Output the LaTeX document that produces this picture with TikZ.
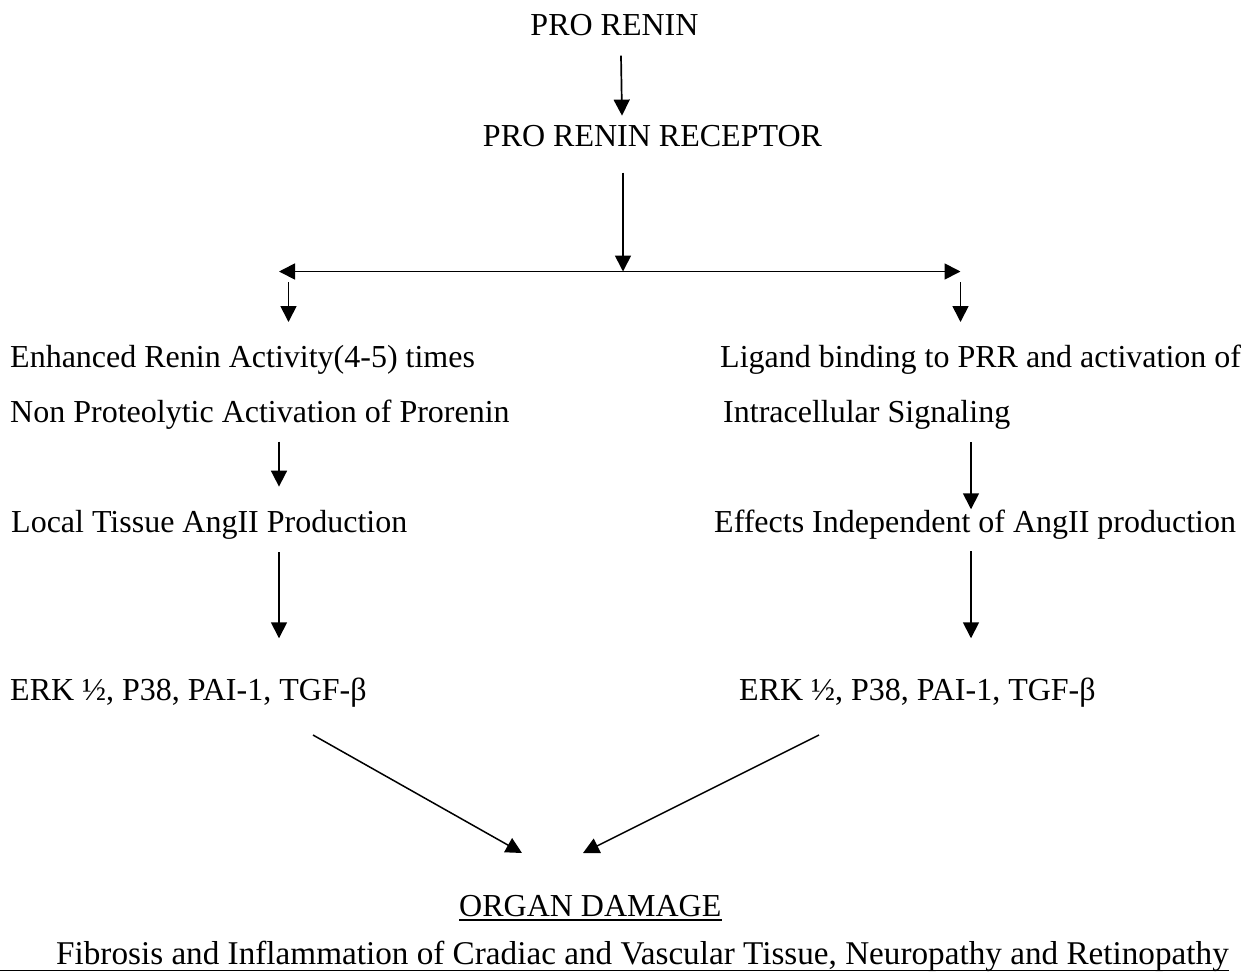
\documentclass[tikz,border=0pt]{standalone}
\usepackage{fontspec}
\setmainfont{Liberation Serif}
\usetikzlibrary{arrows.meta,calc}

\begin{document}
\begin{tikzpicture}[x=1pt,y=-1pt,
	txt/.style={inner sep=0pt,anchor=base west,font=\fontsize{32}{38}\selectfont},
	arr/.style={-{Triangle[length=16pt,width=16pt]},line width=1.7pt},
	arrs/.style={{Triangle[length=16pt,width=16pt]}-{Triangle[length=16pt,width=16pt]},line width=1.7pt}]
	\useasboundingbox (0,0) rectangle (1251,978);
	\node (p1) [txt,anchor=base] at (614.5,35)  {PRO RENIN};
	\node (p2) [txt,anchor=base] at (652.5,146) {PRO RENIN RECEPTOR};
	
	\coordinate (s0) at (623,271.5);
	\coordinate (s1) at (279,271.5);
	\coordinate (s2) at (960.5,271.5);
	\coordinate (cl) at (279,0);
	\coordinate (cr) at (971,0);
	\coordinate (e0) at (0,0);
	
	\node (a1) [txt] at (10,367) {Enhanced Renin Activity(4-5) times};
	\node (a2) [txt] at (10,422) {Non Proteolytic Activation of Prorenin};
	\node (a3) [txt] at (11,532) {Local Tissue AngII Production};
	\node (a4) [txt] at (10,700) {ERK ½, P38, PAI-1, TGF-β};
	
	\node (b1) [txt] at (720,367) {Ligand binding to PRR and activation of};
	\node (b2) [txt] at (723,422) {Intracellular Signaling};
	\node (b3) [txt] at (714,532) {Effects Independent of AngII production};
	\node (b4) [txt] at (739,700) {ERK ½, P38, PAI-1, TGF-β};
	
	\node (d1) [txt] at (459,916) {ORGAN DAMAGE};
	\node (d2) [txt,font=\fontsize{33.2}{40}\selectfont] at (56,964) {Fibrosis and Inflammation of Cradiac and Vascular Tissue, Neuropathy and Retinopathy};
	
	\draw[arr] ($(p1.south)+(6.5,20)$) -- ($(p2.north)+(-30.5,-9)$);
	\draw[arr] ($(p2.south)+(-29.5,26)$) -- (s0);
	\draw[arrs] (s1) -- (s2);
	\draw[arr] ($(s1)+(9.5,10.5)$) -- ++(0,40);
	\draw[arr] ($(s2)+(0,10.5)$) -- ++(0,40);
	
	\draw[arr] ($(cl |- a2.south)+(0,12.5)$) -- ($(cl |- a3.north)+(0,-23)$);
	\draw[arr] ($(cl |- a3.south)+(0,13)$) -- ($(cl |- a4.north)+(0,-39)$);
	\draw[arr] ($(cr |- b2.south)+(0,13)$) -- (cr |- b3.north);
	\draw[arr] ($(cr |- b3.south)+(0,12)$) -- ($(cr |- b4.north)+(0,-39)$);
	
	\draw[arr,line width=1.5pt] ($(a4.base west)+(303,35)$) -- ($(d1.base west)+(63,-63)$);
	\draw[arr,line width=1.5pt] ($(b4.base west)+(80,35)$) -- ($(d1.base west)+(124,-63)$);
	
	% underlines
	\draw[line width=1.5pt] ($(d1.base west)+(0,4)$) -- ($(d1.base east)+(0,4)$);
	\draw[line width=1.5pt] ($(e0 |- d2.base)+(0,6.5)$) -- ($(d2.base east)+(0,6.5)$);
\end{tikzpicture}
\end{document}
